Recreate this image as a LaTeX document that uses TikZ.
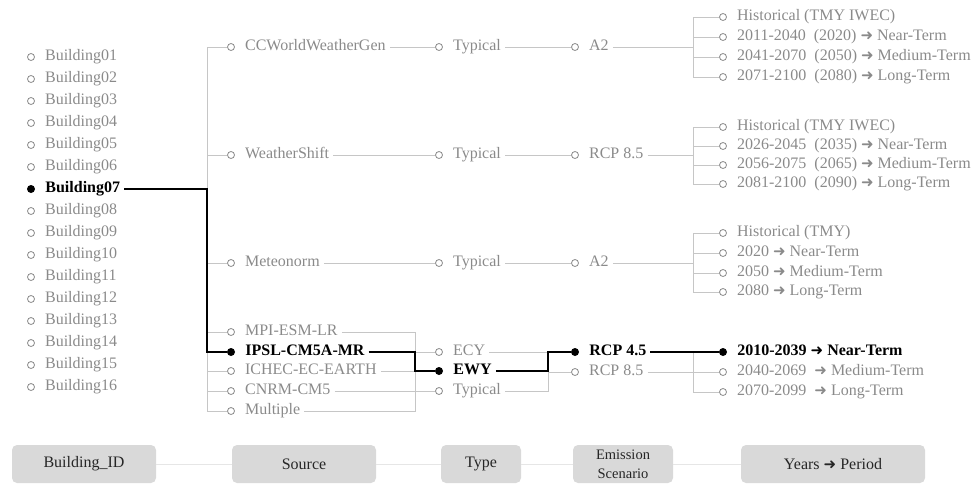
\documentclass[tikz,border=0pt]{standalone}
\usepackage{fontspec}
\setmainfont{Liberation Serif}
\newfontfamily\okfont{DejaVu Sans}
\usetikzlibrary{calc}
\definecolor{metinGri}{HTML}{8A8A8A}
\definecolor{cizgiGri}{HTML}{C6C6C6}
\definecolor{kutuGri}{HTML}{D9D9D9}
\definecolor{bagGri}{HTML}{E6E6E6}
\newcommand{\ok}{{\okfont\fontsize{15}{15}\selectfont ➜}}
\tikzset{
  acik/.style={circle,draw=metinGri,fill=white,line width=0.8pt,inner sep=0pt,minimum size=7pt},
  dolu/.style={circle,fill=black,inner sep=0pt,minimum size=8pt},
  etiket/.style={anchor=west,xshift=6pt,inner xsep=4pt,inner ysep=0pt,text height=10.5pt,text depth=3.5pt,
    text=metinGri,font=\fontsize{16}{18}\selectfont},
  secili/.style={etiket,text=black,font=\fontsize{16}{18}\selectfont\bfseries},
  hat/.style={draw=cizgiGri,line width=1pt},
  sechat/.style={draw=black,line width=2pt},
  kutu/.style={rounded corners=5pt,fill=kutuGri,minimum height=38pt,inner sep=0pt,align=center,
    text=black!85,font=\fontsize{16}{18}\selectfont}
}

\begin{document}
\begin{tikzpicture}[x=1pt,y=-1pt]
\useasboundingbox (0,0) rectangle (979,493);
% binalar
\foreach \i [evaluate=\i as \yy using 57+22*(\i-1)] in {1,...,16}{
  \ifnum\i=7
    \node[dolu] (b\i) at (31,\yy) {};
    \node[secili] (lb\i) at (b\i.east) {Building07};
  \else
    \node[acik] (b\i) at (31,\yy) {};
    \node[etiket] (lb\i) at (b\i.east) {Building\ifnum\i<10 0\fi\i};
  \fi
}
% kaynaklar
\coordinate (govde) at (207,0);
\foreach \k/\yy/\txt in {1/47/CCWorldWeatherGen,2/155/WeatherShift,3/263/Meteonorm,4/332/MPI-ESM-LR,
    6/371/ICHEC-EC-EARTH,7/391/CNRM-CM5,8/411/Multiple}{
  \node[acik] (s\k) at (231,\yy) {};
  \node[etiket] (ls\k) at (s\k.east) {\txt};
}
\node[dolu] (s5) at (231,352) {};
\node[secili] (ls5) at (s5.east) {IPSL-CM5A-MR};
% tip
\coordinate (dugum) at (415,0);
\foreach \k/\yy/\txt in {1/47/Typical,2/155/Typical,3/263/Typical,4/352/ECY,6/391/Typical}{
  \node[acik] (t\k) at (439,\yy) {};
  \node[etiket] (lt\k) at (t\k.east) {\txt};
}
\node[dolu] (t5) at (439,371) {};
\node[secili] (lt5) at (t5.east) {EWY};
% senaryo
\coordinate (dugum2) at (548,0);
\foreach \k/\yy/\txt in {1/47/A2,2/155/RCP 8.5,3/263/A2,5/372/RCP 8.5}{
  \node[acik] (e\k) at (575,\yy) {};
  \node[etiket] (le\k) at (e\k.east) {\txt};
}
\node[dolu] (e4) at (575,352) {};
\node[secili] (le4) at (e4.east) {RCP 4.5};
% yillar
\coordinate (dugum3) at (693,0);
\foreach \k/\yy/\txt in {1/17/{Historical (TMY IWEC)},2/37/{2011-2040\ \ (2020) \ok{} Near-Term},
    3/57/{2041-2070\ \ (2050) \ok{} Medium-Term},4/77/{2071-2100\ \ (2080) \ok{} Long-Term}}{
  \node[acik] (ya\k) at (723,\yy) {};
  \node[etiket] (lya\k) at (ya\k.east) {\txt};
  \draw[hat] (ya\k.west -| dugum3) -- (ya\k.west);
}
\foreach \k/\yy/\txt in {1/127/{Historical (TMY IWEC)},2/146/{2026-2045\ \ (2035) \ok{} Near-Term},
    3/165/{2056-2075\ \ (2065) \ok{} Medium-Term},4/184/{2081-2100\ \ (2090) \ok{} Long-Term}}{
  \node[acik] (yb\k) at (723,\yy) {};
  \node[etiket] (lyb\k) at (yb\k.east) {\txt};
  \draw[hat] (yb\k.west -| dugum3) -- (yb\k.west);
}
\foreach \k/\yy/\txt in {1/233/{Historical (TMY)},2/253/{2020 \ok{} Near-Term},
    3/273/{2050 \ok{} Medium-Term},4/292/{2080 \ok{} Long-Term}}{
  \node[acik] (yc\k) at (723,\yy) {};
  \node[etiket] (lyc\k) at (yc\k.east) {\txt};
  \draw[hat] (yc\k.west -| dugum3) -- (yc\k.west);
}
\node[dolu] (yd1) at (723,352) {};
\node[secili] (lyd1) at (yd1.east) {2010-2039 \ok{} Near-Term};
\foreach \k/\yy/\txt in {2/372/{2040-2069\ \ \ok{} Medium-Term},3/392/{2070-2099\ \ \ok{} Long-Term}}{
  \node[acik] (yd\k) at (723,\yy) {};
  \node[etiket] (lyd\k) at (yd\k.east) {\txt};
}

% gri baglantilar
\draw[hat] (s1.west -| govde) -- (s8.west -| govde);
\foreach \k in {1,2,3,4,6,7,8} \draw[hat] (s\k.west -| govde) -- (s\k.west);
\foreach \k in {1,2,3} \draw[hat] (ls\k.east) -- (t\k.west);
\draw[hat] (ls4.east) -| (ls8.east -| dugum) -- (ls8.east);
\draw[hat] (ls6.east) -- (ls6.east -| dugum);
\draw[hat] (ls7.east) -- (t6.west);
\draw[hat] (t4.west -| dugum) -- (t4.west);
\foreach \k in {1,2,3} \draw[hat] (lt\k.east) -- (e\k.west);
\draw[hat] (lt4.east) -- (lt4.east -| dugum2);
\draw[hat] (lt6.east) -| (lt4.east -| dugum2);
\draw[hat] (e5.west -| dugum2) -- (e5.west);
\draw[hat] (ya1.west -| dugum3) -- (ya4.west -| dugum3);
\draw[hat] (yb1.west -| dugum3) -- (yb4.west -| dugum3);
\draw[hat] (yc1.west -| dugum3) -- (yc4.west -| dugum3);
\draw[hat] (le1.east) -- (le1.east -| dugum3);
\draw[hat] (le2.east) -- (le2.east -| dugum3);
\draw[hat] (le3.east) -- (le3.east -| dugum3);
\draw[hat] (yd1.west -| dugum3) -- (yd3.west -| dugum3);
\draw[hat] (le5.east) -- (yd2.west);
\draw[hat] (yd3.west -| dugum3) -- (yd3.west);

% secili yol
\draw[sechat] (lb7.east) -| (s5.west -| govde) -- (s5.west);
\draw[sechat] (ls5.east) -- (ls5.east -| dugum) |- (t5.west);
\draw[sechat] (lt5.east) -| (e4.west -| dugum2) -- (e4.west);
\draw[sechat] (le4.east) -- (yd1.west);

% alt kutular
\node[kutu,minimum width=144pt] (k1) at (84,464) {Building\_ID};
\node[kutu,minimum width=144pt] (k2) at (304,464) {Source};
\node[kutu,minimum width=80pt] (k3) at (481,464) {Type};
\node[kutu,minimum width=100pt,font=\fontsize{14.5}{19}\selectfont] (k4) at (623,464) {Emission\\Scenario};
\node[kutu,minimum width=184pt] (k5) at (833,464) {Years \ok{} Period};
\draw[bagGri,line width=1pt] (k1) -- (k2) -- (k3) -- (k4) -- (k5);
\end{tikzpicture}
\end{document}
